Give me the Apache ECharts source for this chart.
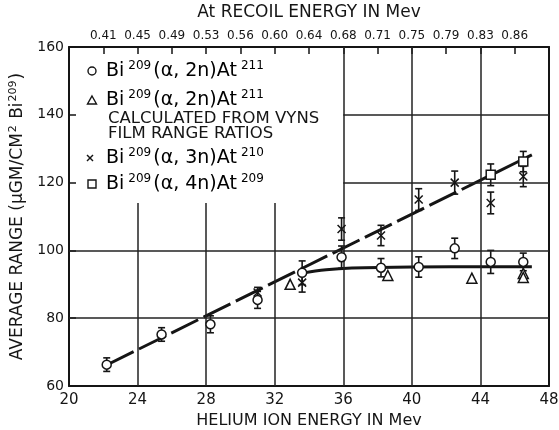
<!DOCTYPE html>
<html>
<head>
<meta charset="utf-8">
<script src="https://cdn.jsdelivr.net/npm/echarts@6/dist/echarts.min.js"></script>
<style>
  html, body { margin: 0; padding: 0; background: #fff; }
  #main { width: 559px; height: 430px; }
</style>
</head>
<body>
<div id="main"></div>
<script>
// values: helium ion energy (MeV) vs average range (ugm/cm2 Bi209)
var alpha2nX = [22.2, 25.4, 28.25, 31.0, 33.6, 35.9, 38.2, 40.4, 42.5, 44.6, 46.5];
var alpha2nY = [66.3, 75.2, 78.2, 85.4, 93.4, 98.0, 94.9, 95.1, 100.6, 96.6, 96.6];
var alpha2nErr = [2.0, 2.0, 2.5, 2.5, 3.5, 3.3, 2.7, 3.0, 3.0, 3.4, 2.6];

var vynsX = [32.9, 38.6, 43.5, 46.5, 46.5];
var vynsY = [90.0, 92.6, 91.8, 93.2, 92.0];

var alpha3nX = [31.0, 33.6, 35.9, 38.2, 40.4, 42.5, 44.6, 46.5];
var alpha3nY = [87.6, 90.5, 106.3, 104.4, 115.0, 120.0, 114.0, 121.8];
var alpha3nErr = [1.5, 2.8, 3.3, 3.0, 3.2, 3.4, 3.2, 3.0];

var alpha4nX = [44.6, 46.5];
var alpha4nY = [122.3, 126.2];
var alpha4nErr = [3.2, 3.0];

// drawn curves
var fitX = [22.2, 47.0];
var fitY = [66.2, 128.2];
var plateauX = [33.6, 35.0, 36.5, 40.0, 47.0];
var plateauY = [93.3, 94.3, 94.8, 95.1, 95.2];

// top axis: At recoil energy at helium energies 22..46
var heliumTicks = [22, 24, 26, 28, 30, 32, 34, 36, 38, 40, 42, 44, 46];
var recoilLabels = ['0.41', '0.45', '0.49', '0.53', '0.56', '0.60', '0.64', '0.68', '0.71', '0.75', '0.79', '0.83', '0.86'];

// grid lines of the figure
var gridX = [24, 28, 32, 36, 40, 44];
var gridY = [80, 100, 120, 140];

var FONT = 'DejaVu Sans';
var INK = '#151515';

function pairs(xs, ys, errs) {
  return xs.map(function (x, i) {
    return errs ? [x, ys[i], errs[i]] : [x, ys[i]];
  });
}

function errorBars(name, xs, ys, errs) {
  return {
    name: name,
    type: 'custom',
    z: 3,
    encode: { x: 0, y: 1 },
    renderItem: function (params, api) {
      var x = api.value(0), y = api.value(1), e = api.value(2);
      var top = api.coord([x, y + e]);
      var bot = api.coord([x, y - e]);
      var w = 3.5;
      var st = { stroke: INK, lineWidth: 1.6 };
      return {
        type: 'group',
        children: [
          { type: 'line', shape: { x1: top[0], y1: top[1], x2: bot[0], y2: bot[1] }, style: st },
          { type: 'line', shape: { x1: top[0] - w, y1: top[1], x2: top[0] + w, y2: top[1] }, style: st },
          { type: 'line', shape: { x1: bot[0] - w, y1: bot[1], x2: bot[0] + w, y2: bot[1] }, style: st }
        ]
      };
    },
    data: pairs(xs, ys, errs)
  };
}

function markers(name, xs, ys, symbol, size) {
  return {
    name: name,
    type: 'scatter',
    z: 5,
    symbol: symbol,
    symbolSize: size,
    itemStyle: { color: '#fff', borderColor: INK, borderWidth: 1.5, opacity: 1 },
    data: pairs(xs, ys)
  };
}

// grid lines; the upper left part is left clear for the key
var keyRight = 36, keyBottom = 114;
var gridLines = [];
gridX.forEach(function (x) {
  gridLines.push([{ coord: [x, 60] }, { coord: [x, x < keyRight ? keyBottom : 160] }]);
});
gridY.forEach(function (y) {
  gridLines.push([{ coord: [y > keyBottom ? keyRight : 20, y] }, { coord: [48, y] }]);
});

var chart = echarts.init(document.getElementById('main'));

var keyRich = {
  b: { fontFamily: FONT, fontSize: 19, color: INK, lineHeight: 23 },
  s: { fontFamily: FONT, fontSize: 12, color: INK, verticalAlign: 'top', padding: [0, 2, 0, 4] }
};

function keyLabel(n, b) {
  return '{b|Bi}{s|209}{b|(α, ' + n + ')At}{s|' + b + '}';
}

var noteStyle = { fontFamily: FONT, fontSize: 16.5, fill: INK, verticalAlign: 'middle' };

var option = {
  animation: false,
  backgroundColor: '#fff',
  grid: { left: 69, right: 10, top: 47, bottom: 44, outerBoundsMode: 'none', containLabel: false },
  xAxis: [
    {
      type: 'value', min: 20, max: 48, interval: 4,
      name: 'HELIUM ION ENERGY IN Mev',
      nameLocation: 'middle', nameGap: 27,
      nameTextStyle: { fontFamily: FONT, fontSize: 16, color: INK },
      axisLine: { show: true, lineStyle: { color: INK, width: 2 } },
      axisTick: { show: false },
      splitLine: { show: false },
      axisLabel: { fontFamily: FONT, fontSize: 15, color: INK, margin: 7 }
    },
    {
      type: 'value', min: 20, max: 48, interval: 2, position: 'top',
      name: 'At RECOIL ENERGY IN Mev',
      nameLocation: 'middle', nameGap: 26,
      nameTextStyle: { fontFamily: FONT, fontSize: 17, color: INK },
      axisLine: { show: true, lineStyle: { color: INK, width: 2 } },
      axisTick: { show: true, inside: true, length: 7, lineStyle: { color: INK, width: 1.5 } },
      splitLine: { show: false },
      axisLabel: {
        fontFamily: FONT, fontSize: 12, color: INK, margin: 5,
        formatter: function (v) {
          var i = heliumTicks.indexOf(v);
          return i >= 0 ? recoilLabels[i] : '';
        }
      }
    }
  ],
  yAxis: [
    {
      type: 'value', min: 60, max: 160, interval: 20,
      name: '{t|AVERAGE RANGE (μGM/CM}{s|2}{t| Bi}{s|209}{t|)}',
      nameLocation: 'middle', nameRotate: 90, nameGap: 40,
      nameTextStyle: {
        rich: {
          t: { fontFamily: FONT, fontSize: 17, color: INK, lineHeight: 21 },
          s: { fontFamily: FONT, fontSize: 11, color: INK, verticalAlign: 'top', padding: [0, 1, 0, 1] }
        }
      },
      axisLine: { show: true, lineStyle: { color: INK, width: 2 } },
      axisTick: { show: true, inside: true, length: 7, lineStyle: { color: INK, width: 1.5 } },
      splitLine: { show: false },
      axisLabel: { fontFamily: FONT, fontSize: 14, color: INK, margin: 5 }
    },
    {
      type: 'value', min: 60, max: 160, interval: 20, position: 'right',
      axisLine: { show: true, lineStyle: { color: INK, width: 2 } },
      axisTick: { show: false },
      axisLabel: { show: false },
      splitLine: { show: false }
    }
  ],
  series: [
    {
      name: 'fit',
      type: 'line',
      z: 2,
      symbol: 'none',
      lineStyle: { color: INK, width: 3, type: [30, 6] },
      data: pairs(fitX, fitY),
      markLine: {
        silent: true,
        symbol: ['none', 'none'],
        label: { show: false },
        lineStyle: { color: '#222', width: 1.5, type: 'solid' },
        data: gridLines
      }
    },
    {
      name: 'plateau',
      type: 'line',
      z: 2,
      symbol: 'none',
      smooth: 0.4,
      lineStyle: { color: INK, width: 3 },
      data: pairs(plateauX, plateauY)
    },
    errorBars('a2n err', alpha2nX, alpha2nY, alpha2nErr),
    errorBars('a3n err', alpha3nX, alpha3nY, alpha3nErr),
    errorBars('a4n err', alpha4nX, alpha4nY, alpha4nErr),
    markers('a3n', alpha3nX, alpha3nY, 'path://M0,0L10,10M10,0L0,10', 8),
    markers('vyns', vynsX, vynsY, 'triangle', 10),
    markers('a2n', alpha2nX, alpha2nY, 'circle', 9),
    markers('a4n', alpha4nX, alpha4nY, 'rect', 9)
  ],
  graphic: [
    {
      type: 'group',
      children: [
        { type: 'circle', shape: { cx: 92, cy: 71, r: 4 }, style: { fill: '#fff', stroke: INK, lineWidth: 1.4 } },
        { type: 'text', x: 106, y: 71, style: { text: keyLabel('2n', '211'), rich: keyRich, verticalAlign: 'middle' } },

        { type: 'polygon', shape: { points: [[92, 96], [96.5, 104], [87.5, 104]] }, style: { fill: '#fff', stroke: INK, lineWidth: 1.4 } },
        { type: 'text', x: 106, y: 100, style: { text: keyLabel('2n', '211'), rich: keyRich, verticalAlign: 'middle' } },
        { type: 'text', x: 108, y: 119, style: Object.assign({ text: 'CALCULATED FROM VYNS' }, noteStyle) },
        { type: 'text', x: 108, y: 134, style: Object.assign({ text: 'FILM RANGE RATIOS' }, noteStyle) },

        { type: 'polyline', shape: { points: [[87, 155], [93, 161]] }, style: { stroke: INK, lineWidth: 1.4 } },
        { type: 'polyline', shape: { points: [[93, 155], [87, 161]] }, style: { stroke: INK, lineWidth: 1.4 } },
        { type: 'text', x: 106, y: 158, style: { text: keyLabel('3n', '210'), rich: keyRich, verticalAlign: 'middle' } },

        { type: 'rect', shape: { x: 88, y: 180, width: 8, height: 8 }, style: { fill: '#fff', stroke: INK, lineWidth: 1.4 } },
        { type: 'text', x: 106, y: 184, style: { text: keyLabel('4n', '209'), rich: keyRich, verticalAlign: 'middle' } }
      ]
    }
  ]
};

chart.setOption(option);
window.addEventListener('resize', function () {
  chart.resize();
});
</script>
</body>
</html>
